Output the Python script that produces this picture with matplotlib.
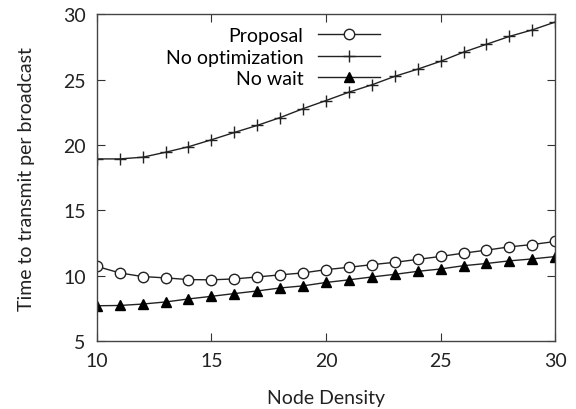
import numpy as np
import matplotlib
matplotlib.use('Agg')
import matplotlib.pyplot as plt

# data
node_density = list(range(10, 31))
proposal = [10.73, 10.23, 9.95, 9.85, 9.72, 9.70, 9.77, 9.92, 10.08, 10.23,
            10.48, 10.66, 10.86, 11.04, 11.26, 11.49, 11.74, 11.97, 12.22, 12.40, 12.63]
no_opt = [18.94, 18.94, 19.07, 19.45, 19.87, 20.40, 20.96, 21.50, 22.10, 22.78,
          23.40, 24.04, 24.60, 25.25, 25.80, 26.40, 27.10, 27.70, 28.30, 28.80, 29.40]
no_wait = [7.72, 7.74, 7.85, 8.01, 8.24, 8.44, 8.65, 8.85, 9.08, 9.24,
           9.50, 9.70, 9.92, 10.12, 10.35, 10.53, 10.78, 10.95, 11.15, 11.30, 11.48]

plt.rcParams['font.family'] = ['Lato', 'DejaVu Sans']
plt.rcParams['font.size'] = 14

fig = plt.figure(figsize=(5.76, 4.10), dpi=100)
ax = fig.add_axes([0.168, 0.165, 0.796, 0.798])

lc = '#222222'
ax.plot(node_density, proposal, color=lc, lw=1, marker='o', ms=7.5,
        mfc='white', mec=lc, mew=1, label='Proposal')
ax.plot(node_density, no_opt, color=lc, lw=1, marker='+', ms=9,
        mew=1, label='No optimization')
ax.plot(node_density, no_wait, color=lc, lw=1, marker='^', ms=7,
        mfc='black', mec='black', label='No wait')

ax.set_xlim(10, 30)
ax.set_ylim(5, 30)
ax.set_xticks([10, 15, 20, 25, 30])
ax.set_yticks([5, 10, 15, 20, 25, 30])
ax.tick_params(direction='in', length=6, top=True, right=True,
               colors='#333333', labelcolor='#222222', pad=8)
for s in ax.spines.values():
    s.set_color('#444444')
    s.set_linewidth(1)

ax.set_xlabel('Node Density', color='#222222', labelpad=14)
ax.set_ylabel('Time to transmit per broadcast', color='#222222', labelpad=20)

leg = ax.legend(loc='upper right', bbox_to_anchor=(0.618, 0.96), frameon=False,
                markerfirst=False, handlelength=3.2, handletextpad=0.75,
                labelspacing=0.22, borderpad=0, borderaxespad=0)

fig.savefig('out.png', dpi=100)
